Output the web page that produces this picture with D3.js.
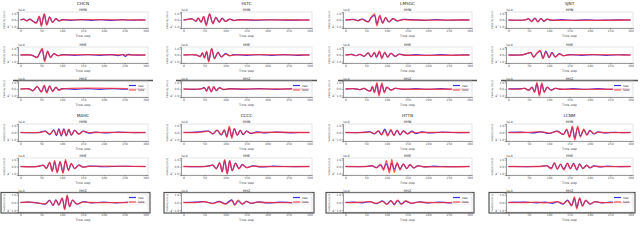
<!DOCTYPE html>
<html>
<head>
  <script src="https://d3js.org/d3.v7.min.js"></script>
  <style>
    body { margin: 0; background: #fff; }
    svg { font-family: "DejaVu Sans", sans-serif; }
    .tick text { fill: #555; }
    .title { font-size: 4.2px; fill: #222; }
    .small { font-size: 3px; fill: #444; }
  </style>
</head>
<body>
  <div id="chart"></div>
  <script>
    const stations = ["CHCN", "HLTC", "LMSGC", "SJNT", "MAHC", "CCCC", "HTTB", "LCNM"];
    const channels = ["HHN", "HHE", "HHZ"];
    const xTicks = [0, 50, 100, 150, 200, 250, 300];
    const yTicks = [-1, 0, 1];
    const offsetLabel = "1e-8";
    const legendLabels = ["real", "fake"];

    // waveforms as [time step, amplitude] points, one per station
    const realHHN = [
      [[0,0],[8,0.15],[15,-0.1],[22,0.15],[30,-0.2],[38,-0.4],[45,0.5],[50,-0.8],[57,0.9],[63,-0.7],[70,0.45],[77,-0.35],[85,0.2],[92,-0.15],[100,0.05],[120,-0.05],[145,0.06],[170,-0.05],[195,0.05],[220,-0.06],[245,0.05],[265,-0.04],[280,0],[300,0]],
      [[0,0],[10,0.1],[20,0.2],[30,-0.2],[35,0.3],[42,-0.3],[48,0.5],[54,-0.7],[62,0.85],[70,-0.5],[77,0.4],[85,-0.3],[92,0.3],[100,-0.2],[110,0.15],[120,-0.1],[130,0.04],[170,-0.04],[210,0.04],[250,-0.03],[280,0],[300,0]],
      [[0,0],[20,0.1],[30,-0.1],[40,0.15],[55,-0.25],[62,0.35],[70,0.7],[76,-0.6],[83,0.55],[90,-0.45],[97,0.35],[105,-0.3],[115,0.2],[125,-0.15],[140,0.1],[160,0.05],[190,-0.05],[220,0.05],[250,-0.04],[270,0],[300,0]],
      [[0,0],[40,0],[50,0.2],[57,-0.2],[65,0.3],[72,-0.25],[80,0.25],[87,-0.2],[95,0.15],[105,-0.05],[130,0.05],[160,-0.05],[190,0.04],[220,-0.04],[250,0],[300,0]],
      [[0,0],[45,0],[60,0.2],[70,-0.3],[80,0.4],[86,-0.45],[92,0.55],[98,-0.5],[104,0.55],[110,-0.5],[116,0.45],[122,-0.4],[130,0.3],[140,-0.2],[150,0.2],[165,-0.1],[180,0.05],[200,-0.05],[230,0.04],[260,0],[300,0]],
      [[0,0],[30,0.05],[40,0.1],[60,0.2],[70,-0.2],[80,0.3],[90,-0.35],[97,0.35],[103,-0.6],[109,0.7],[115,-0.6],[121,0.55],[128,-0.4],[135,0.3],[142,-0.3],[150,0.2],[160,-0.15],[175,0.1],[195,-0.05],[220,0.05],[250,-0.04],[275,0],[300,0]],
      [[0,0],[40,0],[60,0.1],[70,-0.2],[80,0.2],[87,-0.3],[95,0.5],[102,-0.35],[110,0.3],[117,-0.4],[125,0.3],[132,-0.35],[140,0.25],[150,-0.2],[160,0.2],[170,-0.15],[185,0.1],[200,-0.05],[230,0.04],[260,0],[300,0]],
      [[0,0],[30,0.05],[60,-0.05],[80,0.1],[100,-0.15],[120,0.2],[135,-0.3],[143,0.4],[150,-0.6],[157,0.75],[163,-0.85],[170,0.7],[177,-0.5],[185,0.4],[193,-0.35],[200,0.3],[210,-0.2],[220,0.1],[235,-0.05],[255,0.04],[270,0],[300,0]]
    ];
    const fakeHHN = [
      [[0,0],[8,0.1],[15,-0.15],[22,0.1],[30,-0.2],[38,-0.5],[45,0.6],[50,-1.0],[57,1.0],[63,-0.8],[70,0.5],[77,-0.4],[85,0.2],[92,-0.1],[100,0],[300,0]],
      [[0,0],[10,0.1],[20,0.15],[30,-0.15],[35,0.3],[42,-0.35],[48,0.55],[54,-0.9],[62,1.0],[70,-0.6],[77,0.4],[85,-0.35],[92,0.25],[100,-0.2],[110,0.1],[120,-0.05],[130,0],[300,0]],
      [[0,0],[20,0.05],[30,-0.1],[40,0.1],[55,-0.3],[62,0.4],[70,0.95],[76,-0.9],[83,0.75],[90,-0.5],[97,0.4],[105,-0.3],[115,0.2],[125,-0.1],[140,0.05],[155,0],[300,0]],
      [[0,0],[40,0],[50,0.15],[57,-0.25],[65,0.25],[72,-0.3],[80,0.2],[87,-0.15],[95,0.1],[105,0],[300,0]],
      [[0,0],[45,0],[60,0.15],[70,-0.25],[80,0.3],[86,-0.3],[92,0.4],[98,-0.4],[104,0.45],[110,-0.45],[116,0.5],[122,-0.4],[130,0.3],[140,-0.25],[150,0.15],[165,-0.05],[175,0],[300,0]],
      [[0,0],[30,0],[40,0.05],[60,0.15],[70,-0.2],[80,0.35],[90,-0.3],[97,0.4],[103,-0.7],[109,0.95],[115,-0.85],[121,0.6],[128,-0.4],[135,0.3],[142,-0.25],[150,0.15],[160,-0.1],[175,0],[300,0]],
      [[0,0],[40,0],[60,0.05],[70,-0.15],[80,0.25],[87,-0.35],[95,0.3],[102,-0.5],[110,0.45],[117,-0.45],[125,0.35],[132,-0.3],[140,0.2],[150,-0.2],[160,0.1],[170,-0.05],[180,0],[300,0]],
      [[0,0],[30,0],[60,0.05],[80,0.1],[100,-0.1],[120,0.15],[135,-0.25],[143,0.5],[150,-0.75],[157,0.95],[163,-1.1],[170,0.95],[177,-0.65],[185,0.5],[193,-0.4],[200,0.25],[210,-0.15],[220,0.05],[230,0],[300,0]]
    ];
    const realHHE = [
      [[0,0],[25,0],[32,-0.15],[40,-0.35],[47,0.4],[52,0.85],[58,-0.8],[65,0.5],[72,-0.35],[80,0.2],[90,-0.1],[100,0.05],[130,-0.05],[160,0.05],[190,-0.05],[220,0.06],[235,-0.1],[245,0.08],[252,-0.2],[258,0.1],[270,0],[300,0]],
      [[0,0],[30,0],[40,-0.2],[45,0.3],[50,-0.4],[55,0.5],[60,-0.9],[67,0.95],[74,-0.5],[82,0.4],[90,-0.3],[100,0.2],[110,-0.1],[120,0.05],[150,-0.05],[180,0.05],[210,-0.05],[240,0.05],[270,-0.05],[290,0],[300,0]],
      [[0,0],[15,0.1],[25,-0.1],[35,0.1],[45,-0.2],[55,0.3],[62,-0.3],[70,0.35],[75,-0.35],[82,0.45],[88,-0.4],[95,0.35],[102,-0.3],[110,0.25],[120,-0.2],[130,0.15],[145,-0.05],[170,0.05],[200,-0.05],[230,0.05],[260,-0.04],[275,0],[300,0]],
      [[0,0],[30,0],[38,0.1],[45,0.2],[55,0.35],[62,-0.3],[70,0.25],[78,0.55],[85,-0.45],[92,0.6],[100,-0.4],[107,0.4],[115,-0.3],[125,0.2],[135,-0.1],[150,0.05],[180,-0.05],[210,0.05],[240,-0.05],[270,0.04],[290,0],[300,0]],
      [[0,0],[40,0],[55,0.15],[62,-0.25],[70,0.55],[76,-0.65],[82,0.7],[88,-0.8],[95,0.65],[102,-0.8],[108,0.8],[115,-0.5],[122,0.4],[130,-0.3],[140,0.2],[150,-0.1],[165,0.05],[200,-0.04],[240,0.04],[270,0],[300,0]],
      [[0,0],[50,0],[60,0.1],[70,0.2],[78,-0.3],[86,0.5],[92,-0.75],[98,0.9],[104,-1.0],[110,0.8],[116,-0.6],[124,0.5],[132,-0.3],[140,0.3],[150,-0.15],[165,0.1],[185,-0.05],[210,0.04],[240,0],[300,0]],
      [[0,0],[50,0],[65,0.1],[75,-0.15],[85,0.2],[92,-0.3],[99,0.4],[106,-0.5],[112,0.5],[118,-0.4],[125,0.4],[132,-0.35],[140,0.35],[148,-0.3],[156,0.25],[165,-0.2],[175,0.1],[190,-0.05],[210,0.04],[230,0],[300,0]],
      [[0,0],[70,0],[85,0.05],[95,0.1],[105,-0.25],[113,0.45],[120,-0.35],[128,0.3],[136,-0.35],[145,0.45],[152,-0.3],[160,0.45],[168,-0.5],[175,0.4],[183,-0.3],[192,0.2],[200,-0.2],[210,0.1],[225,-0.05],[240,0.04],[260,0],[300,0]]
    ];
    const fakeHHE = [
      [[0,0],[25,0],[32,-0.2],[40,-0.4],[47,0.5],[52,1.05],[58,-1.05],[65,0.65],[72,-0.4],[80,0.2],[90,-0.1],[100,0],[300,0]],
      [[0,0],[30,0],[40,-0.25],[45,0.35],[50,-0.5],[55,0.6],[60,-1.1],[67,1.05],[74,-0.6],[82,0.4],[90,-0.3],[100,0.15],[110,-0.1],[120,0],[300,0]],
      [[0,0],[15,0.05],[25,-0.1],[35,0.1],[45,-0.2],[55,0.35],[62,-0.3],[70,0.4],[75,-0.3],[82,0.65],[88,-0.6],[95,0.45],[102,-0.35],[110,0.3],[120,-0.2],[130,0.1],[140,0],[300,0]],
      [[0,0],[30,0],[38,0.05],[45,0.25],[55,0.4],[62,-0.35],[70,0.3],[78,0.7],[85,-0.6],[92,0.45],[100,-0.35],[107,0.3],[115,-0.3],[125,0.15],[135,-0.1],[145,0],[300,0]],
      [[0,0],[40,0],[55,0.2],[62,-0.3],[70,0.65],[76,-0.75],[82,0.85],[88,-0.95],[95,0.75],[102,-1.0],[108,1.0],[115,-0.6],[122,0.45],[130,-0.3],[140,0.2],[150,-0.1],[160,0],[300,0]],
      [[0,0],[50,0],[60,0.05],[70,0.2],[78,-0.35],[86,0.55],[92,-0.8],[98,1.0],[104,-1.1],[110,0.9],[116,-0.6],[124,0.45],[132,-0.35],[140,0.25],[150,-0.15],[165,0.05],[180,0],[300,0]],
      [[0,0],[50,0],[65,0.1],[75,-0.2],[85,0.3],[92,-0.55],[99,0.85],[106,-0.95],[112,1.05],[118,-0.85],[125,0.6],[132,-0.5],[140,0.4],[148,-0.3],[156,0.3],[165,-0.2],[175,0.1],[185,0],[300,0]],
      [[0,0],[70,0],[85,0.05],[95,0.1],[105,-0.35],[113,0.55],[120,-0.4],[128,0.35],[136,-0.5],[145,0.5],[152,-0.35],[160,0.4],[168,-0.45],[175,0.35],[183,-0.3],[192,0.15],[200,-0.15],[210,0.05],[220,0],[300,0]]
    ];
    const realHHZ = [
      [[0,0],[20,0.05],[30,-0.25],[40,0.35],[50,-0.4],[57,0.5],[63,-0.5],[70,0.45],[77,-0.3],[85,0.25],[92,-0.15],[100,0.05],[130,-0.05],[160,0.05],[190,-0.05],[220,0.05],[250,-0.04],[270,0],[300,0]],
      [[0,0],[40,0],[50,0.2],[55,-0.3],[60,0.35],[66,-0.4],[72,0.3],[78,-0.25],[85,0.2],[95,-0.1],[110,0.05],[140,-0.05],[180,0.05],[220,-0.05],[260,0.05],[290,0],[300,0]],
      [[0,0],[20,0.05],[35,-0.1],[45,0.1],[52,-0.15],[60,-0.3],[65,0.35],[70,-0.45],[76,0.75],[81,-0.8],[88,0.7],[94,-0.45],[100,0.25],[110,-0.15],[120,0.1],[140,-0.05],[170,0.05],[200,-0.05],[230,0.05],[260,-0.04],[280,0],[300,0]],
      [[0,0],[30,0.05],[40,0.1],[50,-0.15],[58,0.25],[64,-0.4],[70,0.8],[76,-0.85],[82,0.75],[88,-0.4],[95,0.25],[105,-0.15],[115,0.1],[130,-0.05],[160,0.05],[190,-0.05],[220,0.05],[250,-0.05],[280,0.03],[300,0]],
      [[0,0],[20,0.05],[40,-0.05],[60,-0.2],[70,0.3],[78,-0.4],[85,0.35],[92,-0.3],[100,0.55],[106,-0.8],[112,0.85],[118,-0.5],[125,0.3],[135,-0.2],[150,0.1],[170,-0.05],[200,0.05],[230,-0.05],[260,0.04],[280,0],[300,0]],
      [[0,0],[30,0.05],[50,0.1],[70,-0.1],[85,0.15],[100,-0.15],[115,0.35],[122,-0.3],[130,0.2],[140,-0.2],[150,0.15],[160,-0.1],[180,0.08],[200,-0.06],[230,0.05],[260,-0.04],[285,0],[300,0]],
      [[0,0],[20,0.05],[40,-0.05],[60,0.1],[75,-0.15],[90,0.2],[100,-0.2],[110,0.25],[118,-0.3],[126,0.25],[135,-0.2],[145,0.15],[160,-0.1],[180,0.1],[200,-0.05],[225,0.05],[250,-0.04],[275,0],[300,0]],
      [[0,0],[40,0.05],[70,-0.05],[90,0.05],[110,-0.1],[120,0.1],[135,-0.2],[145,0.3],[155,-0.35],[162,0.55],[168,-0.65],[175,0.5],[182,-0.4],[190,0.25],[200,-0.2],[212,0.1],[230,-0.05],[250,0.05],[270,0],[300,0]]
    ];
    const fakeHHZ = [
      [[0,0],[20,0],[30,-0.3],[40,0.4],[50,-0.5],[57,0.6],[63,-0.65],[70,0.5],[77,-0.4],[85,0.3],[92,-0.2],[100,0],[300,0]],
      [[0,0],[40,0],[50,0.15],[55,-0.35],[60,0.4],[66,-0.45],[72,0.35],[78,-0.2],[85,0.15],[95,-0.05],[105,0],[300,0]],
      [[0,0],[20,0.05],[35,-0.1],[45,0.1],[52,-0.15],[60,-0.35],[65,0.4],[70,-0.6],[76,1.0],[81,-1.1],[88,0.95],[94,-0.6],[100,0.3],[110,-0.2],[120,0.1],[135,0],[300,0]],
      [[0,0],[30,0],[40,0.1],[50,-0.2],[58,0.3],[64,-0.55],[70,1.05],[76,-1.1],[82,0.95],[88,-0.55],[95,0.3],[105,-0.2],[115,0.1],[125,0],[300,0]],
      [[0,0],[20,0.05],[40,-0.05],[60,-0.15],[70,0.25],[78,-0.35],[85,0.3],[92,-0.35],[100,0.6],[106,-0.95],[112,1.0],[118,-0.55],[125,0.3],[135,-0.2],[150,0.05],[165,0],[300,0]],
      [[0,0],[30,0],[50,0.1],[70,-0.15],[85,0.1],[100,-0.2],[115,0.25],[122,-0.35],[130,0.3],[140,-0.2],[150,0.15],[160,-0.1],[175,0.05],[190,0],[300,0]],
      [[0,0],[20,0],[40,0.05],[60,0.1],[75,-0.1],[90,0.15],[100,-0.25],[110,0.2],[118,-0.2],[126,0.3],[135,-0.25],[145,0.2],[160,-0.1],[175,0.05],[190,0],[300,0]],
      [[0,0],[40,0],[70,0.05],[90,-0.05],[110,0.05],[120,0.1],[135,-0.15],[145,0.25],[155,-0.45],[162,0.75],[168,-0.85],[175,0.65],[182,-0.5],[190,0.3],[200,-0.2],[212,0.1],[225,0],[300,0]]
    ];

    const real = [realHHN, realHHE, realHHZ];
    const fake = [fakeHHN, fakeHHE, fakeHHZ];

    const width = 640, height = 242;
    const blue = "#3030ff", red = "#ff2d2d";

    // plot area per column, and per group row
    const cols = [[18, 148], [181, 312], [343, 472], [506, 633]];
    const rows = [
      { title: 5, tops: [12, 47, 81], h: [16, 16, 16] },
      { title: 117, tops: [124, 158, 193], h: [17, 17, 19] }
    ];

    const svg = d3.select("#chart").append("svg")
      .attr("width", width)
      .attr("height", height);

    stations.forEach((name, gi) => {
      const [x0, x1] = cols[gi % 4];
      const row = rows[Math.floor(gi / 4)];

      svg.append("text")
        .attr("class", "title")
        .attr("text-anchor", "middle")
        .attr("x", (x0 + x1) / 2)
        .attr("y", row.title)
        .text(name);

      channels.forEach((ch, ci) => {
        const top = row.tops[ci], bottom = top + row.h[ci];
        const x = d3.scaleLinear().domain([-6, 306]).range([x0, x1]);
        const y = d3.scaleLinear().domain([-1.25, 1.25]).range([bottom, top]);
        const g = svg.append("g");

        // dark frame seen around the last panel
        if (ci === 2) {
          if (gi < 4) {
            g.append("line")
              .attr("x1", x0 - 5).attr("x2", x1 + 5)
              .attr("y1", top - 0.5).attr("y2", top - 0.5)
              .attr("stroke", "#555").attr("stroke-width", 1.3);
          } else {
            g.append("rect")
              .attr("x", x0 - 17).attr("y", top - 0.5)
              .attr("width", x1 - x0 + 19).attr("height", bottom - top + 1.5)
              .attr("fill", "none").attr("stroke", "#555").attr("stroke-width", 1.2);
          }
        }

        g.append("rect")
          .attr("x", x0).attr("y", top)
          .attr("width", x1 - x0).attr("height", bottom - top)
          .attr("fill", "none").attr("stroke", "#ccc").attr("stroke-width", 0.5);

        const xAxis = g.append("g")
          .attr("transform", `translate(0,${bottom})`)
          .call(d3.axisBottom(x).tickValues(xTicks).tickSize(1.2).tickPadding(0.6));
        const yAxis = g.append("g")
          .attr("transform", `translate(${x0},0)`)
          .call(d3.axisLeft(y).tickValues(yTicks).tickSize(1.2).tickPadding(0.6));
        [xAxis, yAxis].forEach(a => {
          a.attr("font-size", 3).attr("font-family", "DejaVu Sans");
          a.select(".domain").attr("stroke", "#444").attr("stroke-width", 0.5);
          a.selectAll(".tick line").attr("stroke", "#444").attr("stroke-width", 0.4);
        });

        g.append("text")
          .attr("class", "title")
          .attr("text-anchor", "middle")
          .attr("x", (x0 + x1) / 2)
          .attr("y", top - 1.5)
          .style("font-size", "3.4px")
          .text(ch);

        g.append("text")
          .attr("class", "small")
          .attr("x", x0)
          .attr("y", top - 1)
          .text(offsetLabel);

        g.append("text")
          .attr("class", "small")
          .attr("text-anchor", "middle")
          .attr("x", (x0 + x1) / 2)
          .attr("y", bottom + 8.5)
          .text("Time step");

        g.append("text")
          .attr("class", "small")
          .attr("text-anchor", "middle")
          .attr("transform", `translate(${x0 - 13},${(top + bottom) / 2}) rotate(-90)`)
          .style("font-size", "2.6px")
          .text("Velocity (m/s)");

        const line = d3.line()
          .x(d => x(d[0]))
          .y(d => y(d[1]))
          .curve(d3.curveCatmullRom.alpha(0.5));

        g.append("path")
          .attr("d", line(real[ci][gi]))
          .attr("fill", "none").attr("stroke", blue).attr("stroke-width", 1.2);
        g.append("path")
          .attr("d", line(fake[ci][gi]))
          .attr("fill", "none").attr("stroke", red).attr("stroke-width", 1.3)
          .attr("stroke-opacity", 0.8);

        // legend on the vertical channel
        if (ci === 2) {
          const lg = g.append("g")
            .attr("transform", `translate(${x1 - 20},${top + 1.5})`);
          lg.append("rect")
            .attr("width", 19).attr("height", 10)
            .attr("fill", "#fff").attr("fill-opacity", 0.8)
            .attr("stroke", "#ddd").attr("stroke-width", 0.3);
          [blue, red].forEach((c, i) => {
            lg.append("line")
              .attr("x1", 1).attr("x2", 8)
              .attr("y1", 3 + i * 4.5).attr("y2", 3 + i * 4.5)
              .attr("stroke", c).attr("stroke-width", 1.2)
              .attr("stroke-opacity", i ? 0.8 : 1);
            lg.append("text")
              .attr("class", "small")
              .attr("x", 10)
              .attr("y", 4 + i * 4.5)
              .text(legendLabels[i]);
          });
        }
      });
    });
  </script>
</body>
</html>
